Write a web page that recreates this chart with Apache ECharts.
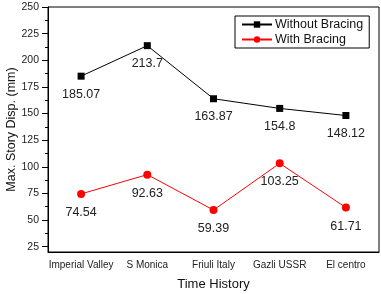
<!DOCTYPE html>
<html>
<head>
<meta charset="utf-8">
<script src="https://cdn.jsdelivr.net/npm/echarts@6/dist/echarts.min.js"></script>
<style>
  html, body { margin: 0; padding: 0; background: #fff; }
  #chart { width: 381px; height: 294px; }
</style>
</head>
<body>
<div id="chart"></div>
<script>
const categories = ['Imperial Valley', 'S Monica', 'Friuli Italy', 'Gazli USSR', 'El centro'];
const withoutBracing = [185.07, 213.7, 163.87, 154.8, 148.12];
const withBracing = [74.54, 92.63, 59.39, 103.25, 61.71];
const yTicks = [25, 50, 75, 100, 125, 150, 175, 200, 225, 250];
const yMinorTicks = [37.5, 62.5, 87.5, 112.5, 137.5, 162.5, 187.5, 212.5, 237.5];

const font = 'Liberation Sans, Arial, sans-serif';
let myChart = echarts.init(document.getElementById('chart'));
let option;

option = {
  animation: false,
  grid: {
    left: 48, right: 2, top: 7, bottom: 42,
    outerBoundsMode: 'none',
    containLabel: false,
    show: true, borderColor: '#000', borderWidth: 1
  },
  legend: {
    orient: 'vertical',
    left: 235, top: 16,
    padding: [2, 6, 2, 6],
    itemGap: 2,
    itemWidth: 30, itemHeight: 8,
    borderColor: '#000', borderWidth: 1,
    textStyle: { fontFamily: font, fontSize: 12.5, color: '#111', padding: [0, 0, 0, -2] }
  },
  xAxis: [
    {
      type: 'category',
      data: categories,
      boundaryGap: true,
      name: 'Time History',
      nameLocation: 'middle',
      nameGap: 26,
      nameMoveOverlap: false,
      nameTextStyle: { fontFamily: font, fontSize: 13, color: '#111' },
      axisLine: { lineStyle: { color: '#000', width: 1 } },
      axisTick: { alignWithLabel: true, length: 4, lineStyle: { color: '#000' } },
      axisLabel: { fontFamily: font, fontSize: 10, color: '#222', margin: 8, interval: 0 },
      splitLine: { show: false }
    },
    {
      type: 'category',
      data: categories,
      position: 'bottom',
      boundaryGap: true,
      axisLine: { show: false },
      axisTick: { length: 3, lineStyle: { color: '#000' } },
      axisLabel: { show: false },
      splitLine: { show: false }
    }
  ],
  yAxis: [
    {
      type: 'value',
      min: 20, max: 250,
      name: 'Max. Story Disp. (mm)',
      nameLocation: 'middle',
      nameGap: 30,
      nameMoveOverlap: false,
      nameTextStyle: { fontFamily: font, fontSize: 12.5, color: '#111' },
      axisLine: { show: true, lineStyle: { color: '#000', width: 1 } },
      axisTick: { show: true, length: 6, customValues: yTicks, lineStyle: { color: '#000' } },
      axisLabel: { fontFamily: font, fontSize: 10.5, color: '#222', margin: 9, customValues: yTicks },
      splitLine: { show: false }
    },
    {
      type: 'value',
      min: 20, max: 250,
      position: 'left',
      axisLine: { show: false },
      axisTick: { show: true, length: 3, customValues: yMinorTicks, lineStyle: { color: '#000' } },
      axisLabel: { show: false },
      splitLine: { show: false }
    }
  ],
  series: [
    {
      name: 'Without Bracing',
      type: 'line',
      data: withoutBracing,
      symbol: 'rect',
      symbolSize: 7,
      itemStyle: { color: '#000' },
      lineStyle: { color: '#000', width: 1 },
      label: {
        show: true, position: 'bottom', distance: 8,
        fontFamily: font, fontSize: 12.5, color: '#222'
      }
    },
    {
      name: 'With Bracing',
      type: 'line',
      data: withBracing,
      symbol: 'circle',
      symbolSize: 8,
      itemStyle: { color: '#ff0000' },
      lineStyle: { color: '#ff0000', width: 1 },
      label: {
        show: true, position: 'bottom', distance: 8,
        fontFamily: font, fontSize: 12.5, color: '#222'
      }
    }
  ]
};
option && myChart.setOption(option);
</script>
</body>
</html>
